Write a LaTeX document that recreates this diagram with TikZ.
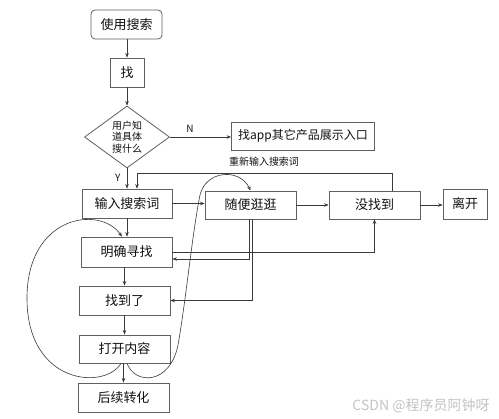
\documentclass[tikz,border=0pt]{standalone}
\usepackage{fontspec}
\setmainfont{Noto Sans CJK SC}
\usetikzlibrary{shapes.geometric,arrows.meta,calc}
\definecolor{boxc}{HTML}{606060}
\definecolor{linec}{HTML}{3A3A3A}
\definecolor{txt}{HTML}{111111}
\definecolor{wmc}{HTML}{C4C4C4}
\begin{document}
\begin{tikzpicture}[x=1pt,y=-1pt,
 box/.style={draw=boxc, line width=0.8pt, fill=white, inner sep=0pt, font=\fontsize{13}{15}\selectfont, text=txt},
 arr/.style={draw=linec, line width=0.6pt, -{Stealth[length=4.5pt,width=3.5pt]}},
 lbl/.style={font=\fontsize{10}{12}\selectfont, text=txt}]
\useasboundingbox[fill=white] (0,0) rectangle (499,419);

\node[box, rounded corners=4pt, minimum width=71pt, minimum height=29pt] (use) at (126.5,24.5) {使用搜索};
\node[box, minimum width=34pt, minimum height=29pt] (zhao) at (127,72.5) {找};
\node[draw=boxc, line width=0.8pt, diamond, aspect=1.37, minimum width=85pt, minimum height=62pt, inner sep=0pt, align=center, text=txt, font=\fontsize{10}{11.5}\selectfont] (dec) at (127,137) {用户知\\道具体\\搜什么};
\node[box, minimum width=143pt, minimum height=28pt, font=\fontsize{12}{14}\selectfont] (other) at (303,136) {找app其它产品展示入口};
\node[box, minimum width=90pt, minimum height=29pt] (input) at (127,203.5) {输入搜索词};
\node[box, minimum width=91pt, minimum height=28pt] (browse) at (250.5,205) {随便逛逛};
\node[box, minimum width=91pt, minimum height=28pt] (nf) at (374.5,205) {没找到};
\node[box, minimum width=44pt, minimum height=30pt] (leave) at (465,204) {离开};
\node[box, minimum width=91pt, minimum height=30pt] (find) at (126.5,252) {明确寻找};
\node[box, minimum width=91pt, minimum height=29pt] (found) at (124.5,300.5) {找到了};
\node[box, minimum width=91pt, minimum height=28pt] (open) at (124.5,349) {打开内容};
\node[box, minimum width=91pt, minimum height=29pt] (conv) at (123.5,397.5) {后续转化};

\node[lbl] (relabel) at (264,162) {重新输入搜索词};
\node[font=\fontsize{14}{16}\selectfont, text=wmc] (wm) at (421,406) {CSDN @程序员阿钟呀};

\draw[arr] (use.south -| zhao.north) -- (zhao.north);
\draw[arr] (zhao) -- (dec);
\draw[arr] (dec.east) -- node[lbl, above=1pt, pos=0.33] (nlab) {N} (dec.east -| other.west);
\draw[arr] (dec.south) -- node[lbl, left=3pt, pos=0.45] (ylab) {Y} (dec.south |- input.north);
\draw[arr] ([xshift=17.5pt]nf.north) -- ++(0,-17) -| ([xshift=10pt]input.north);

\draw[arr] (input.east) -- (input.east -| browse.west);
\draw[arr] (browse) -- (nf);
\draw[arr] (nf.east) -- (nf.east -| leave.west);
\draw[arr] (input.south) -- (input.south |- find.north);
\draw[arr] (found.north |- find.south) -- (found.north);
\draw[arr] (found) -- (open);
\draw[arr] (conv.north |- open.south) -- (conv.north);

\draw[arr] (find.east) -| (nf.south);
\draw[arr] ([xshift=-1.5pt]browse.south) |- ($(find.east)+(0,7)$);
\draw[arr] ([xshift=1.5pt]browse.south) |- (found.east);

\draw[arr] ([xshift=-3.5pt]open.south) .. controls (105,390) and (28,385) .. (27,300)
   .. controls (26,215) and (100,205) .. ([xshift=-4.5pt]find.north);
\draw[arr] ([xshift=2.5pt]open.south) .. controls (135,385) and (170,385) .. (178,345)
   .. controls (186,300) and (192,235) .. (200,195)
   .. controls (206,170) and (240,168) .. (browse.north);
\end{tikzpicture}
\end{document}
